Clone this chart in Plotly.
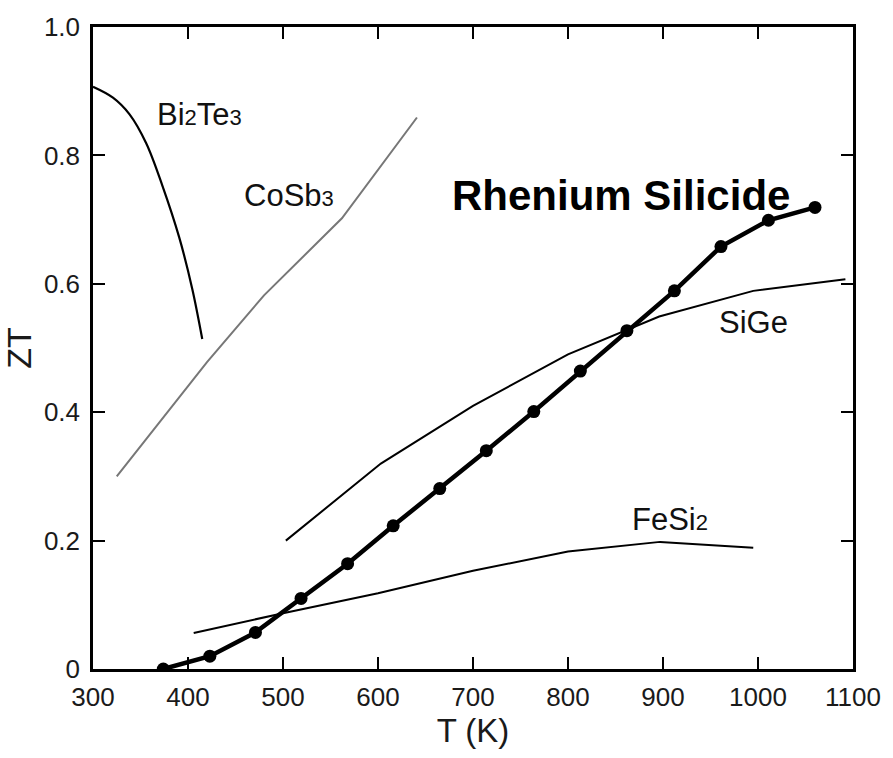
import plotly.graph_objects as go

# Data
re_T = [374, 423, 471, 519, 568, 616, 665, 714, 764, 813, 862, 912, 961, 1011, 1060]
re_ZT = [0.0, 0.020, 0.057, 0.110, 0.164, 0.223, 0.281, 0.340, 0.401, 0.464, 0.527, 0.589, 0.658, 0.699, 0.719]

sige_T = [503, 603, 700, 800, 896, 995, 1092]
sige_ZT = [0.200, 0.320, 0.410, 0.490, 0.549, 0.589, 0.607]

fesi_T = [406, 500, 600, 700, 800, 897, 995]
fesi_ZT = [0.056, 0.087, 0.118, 0.153, 0.183, 0.198, 0.189]

bite_T = [300, 321, 338.5, 356, 373, 390.6, 404.5, 415]
bite_ZT = [0.907, 0.890, 0.864, 0.819, 0.753, 0.673, 0.592, 0.514]

cosb_T = [325, 420, 480, 562, 641]
cosb_ZT = [0.300, 0.478, 0.582, 0.702, 0.859]

x_ticks = [300, 400, 500, 600, 700, 800, 900, 1000, 1100]
y_ticks = [0, 0.2, 0.4, 0.6, 0.8, 1.0]
y_ticktext = ["0", "0.2", "0.4", "0.6", "0.8", "1.0"]

FONT = "Liberation Sans, Arial, sans-serif"
TXT = "#1a1a1a"

fig = go.Figure()
fig.add_trace(go.Scatter(x=bite_T, y=bite_ZT, mode="lines", line=dict(color="black", width=2.2, shape="spline", smoothing=1.0), hoverinfo="skip"))
fig.add_trace(go.Scatter(x=cosb_T, y=cosb_ZT, mode="lines", line=dict(color="#777777", width=2), hoverinfo="skip"))
fig.add_trace(go.Scatter(x=sige_T, y=sige_ZT, mode="lines", line=dict(color="black", width=2), hoverinfo="skip"))
fig.add_trace(go.Scatter(x=fesi_T, y=fesi_ZT, mode="lines", line=dict(color="black", width=2), hoverinfo="skip"))
fig.add_trace(go.Scatter(x=re_T, y=re_ZT, mode="lines+markers", line=dict(color="black", width=4.5),
                         marker=dict(color="black", size=13), hoverinfo="skip"))

def sub(s):
    return '<span style="font-size:22px">' + s + '</span>'

ann_font = dict(family=FONT, size=31, color="#111111")
annotations = [
    dict(x=412, y=0.864, text="Bi" + sub("2") + "Te" + sub("3"), font=ann_font),
    dict(x=506, y=0.737, text="CoSb" + sub("3"), font=ann_font),
    dict(x=856, y=0.737, text="<b>Rhenium Silicide</b>", font=dict(family=FONT, size=42, color="black")),
    dict(x=995, y=0.539, text="SiGe", font=ann_font),
    dict(x=907, y=0.233, text="FeSi" + sub("2"), font=ann_font),
]
for a in annotations:
    a.update(xref="x", yref="y", showarrow=False, xanchor="center", yanchor="middle")

fig.update_layout(
    width=893, height=758,
    margin=dict(l=93, r=32, t=22, b=89),
    paper_bgcolor="white", plot_bgcolor="white",
    showlegend=False,
    annotations=annotations,
    font=dict(family=FONT, color=TXT),
    xaxis=dict(range=[300, 1100], tickvals=x_ticks, ticks="inside", ticklen=12, tickwidth=2,
               tickcolor="black", showline=True, linecolor="black", linewidth=2.5, mirror="ticks",
               showgrid=False, zeroline=False, tickfont=dict(size=26, family=FONT, color=TXT),
               ticklabelstandoff=3,
               title=dict(text="T (K)", font=dict(size=33, family=FONT, color=TXT), standoff=8)),
    yaxis=dict(range=[0, 1.0], tickvals=y_ticks, ticktext=y_ticktext, ticks="inside", ticklen=12, tickwidth=2,
               tickcolor="black", showline=True, linecolor="black", linewidth=2.5, mirror="ticks",
               showgrid=False, zeroline=False, tickfont=dict(size=26, family=FONT, color=TXT),
               ticklabelstandoff=5,
               title=dict(text="ZT", font=dict(size=34, family=FONT, color=TXT), standoff=4)),
)

fig.write_html("out.html")
